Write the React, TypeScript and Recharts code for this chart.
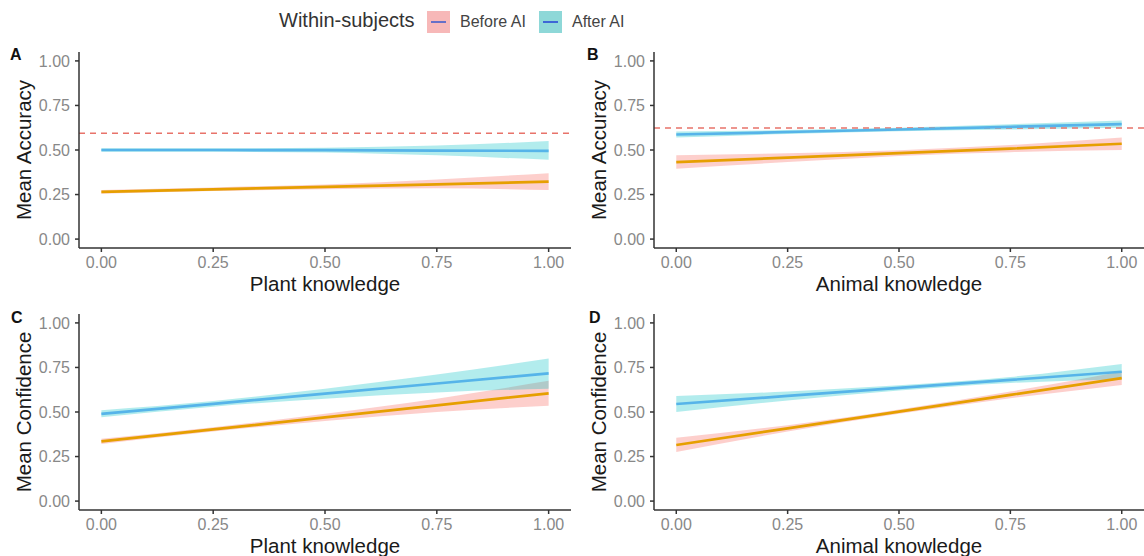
import React from "react"
import { ComposedChart, Line, Area, XAxis, YAxis, ReferenceLine } from "recharts"

const knowledge = [0, 0.25, 0.5, 0.75, 1]
const axisTicks = [0, 0.25, 0.5, 0.75, 1]

// A: accuracy vs plant knowledge
const plantAccBefore = [0.265, 0.279, 0.293, 0.307, 0.322]
const plantAccBeforeLo = [0.255, 0.27, 0.28, 0.285, 0.275]
const plantAccBeforeHi = [0.275, 0.29, 0.307, 0.335, 0.37]
const plantAccAfter = [0.5, 0.5, 0.499, 0.497, 0.495]
const plantAccAfterLo = [0.49, 0.49, 0.486, 0.47, 0.445]
const plantAccAfterHi = [0.51, 0.51, 0.513, 0.525, 0.55]
const plantAccChance = 0.594

// B: accuracy vs animal knowledge
const animalAccBefore = [0.432, 0.457, 0.483, 0.508, 0.535]
const animalAccBeforeLo = [0.395, 0.432, 0.467, 0.488, 0.5]
const animalAccBeforeHi = [0.47, 0.482, 0.499, 0.528, 0.57]
const animalAccAfter = [0.587, 0.601, 0.615, 0.63, 0.645]
const animalAccAfterLo = [0.57, 0.59, 0.605, 0.615, 0.625]
const animalAccAfterHi = [0.604, 0.612, 0.625, 0.645, 0.665]
const animalAccChance = 0.624

// C: confidence vs plant knowledge
const plantConfBefore = [0.335, 0.402, 0.47, 0.537, 0.605]
const plantConfBeforeLo = [0.32, 0.39, 0.45, 0.5, 0.535]
const plantConfBeforeHi = [0.35, 0.414, 0.49, 0.575, 0.675]
const plantConfAfter = [0.49, 0.546, 0.603, 0.66, 0.717]
const plantConfAfterLo = [0.47, 0.53, 0.575, 0.61, 0.63]
const plantConfAfterHi = [0.51, 0.562, 0.63, 0.71, 0.8]

// D: confidence vs animal knowledge
const animalConfBefore = [0.315, 0.408, 0.502, 0.596, 0.69]
const animalConfBeforeLo = [0.275, 0.39, 0.49, 0.577, 0.652]
const animalConfBeforeHi = [0.355, 0.426, 0.514, 0.615, 0.728]
const animalConfAfter = [0.545, 0.59, 0.635, 0.68, 0.726]
const animalConfAfterLo = [0.5, 0.565, 0.62, 0.663, 0.683]
const animalConfAfterHi = [0.59, 0.615, 0.65, 0.697, 0.77]

const FONT = "'Liberation Sans', Arial, sans-serif"

function rows(b: number[], bLo: number[], bHi: number[], a: number[], aLo: number[], aHi: number[]) {
  return knowledge.map((x, i) => ({
    x,
    before: b[i],
    beforeBand: [bLo[i], bHi[i]],
    after: a[i],
    afterBand: [aLo[i], aHi[i]],
  }))
}

function XTitle(props: any) {
  const { viewBox, text } = props
  return (
    <text
      x={viewBox.x + viewBox.width / 2}
      y={viewBox.y + 35}
      textAnchor="middle"
      dominantBaseline="central"
      fontSize={20.5}
      fill="#1a1a1a"
      fontFamily={FONT}
    >
      {text}
    </text>
  )
}

function YTitle(props: any) {
  const { viewBox, text } = props
  const cx = viewBox.x + 23
  const cy = viewBox.y + viewBox.height / 2
  return (
    <text
      x={cx}
      y={cy}
      transform={`rotate(-90, ${cx}, ${cy})`}
      textAnchor="middle"
      dominantBaseline="central"
      fontSize={20.5}
      fill="#1a1a1a"
      fontFamily={FONT}
    >
      {text}
    </text>
  )
}

type PanelProps = {
  left: number
  top: number
  width: number
  right: number
  data: any[]
  xTitle: string
  yTitle: string
  chance?: number
}

function Panel({ left, top, width, right, data, xTitle, yTitle, chance }: PanelProps) {
  const tickStyle = { fill: "#888", fontSize: 16, fontFamily: FONT }
  return (
    <div style={{ position: "absolute", left, top }}>
      <ComposedChart width={width} height={275} data={data} margin={{ top: 22, right, left: 0, bottom: 12 }}>
        <XAxis
          dataKey="x"
          type="number"
          domain={[-0.05, 1.05]}
          allowDataOverflow
          ticks={axisTicks}
          tickFormatter={(v: number) => v.toFixed(2)}
          tick={tickStyle}
          tickSize={4}
          tickMargin={5}
          stroke="#333"
          strokeWidth={1.5}
          height={45}
          label={<XTitle text={xTitle} />}
        />
        <YAxis
          type="number"
          domain={[-0.05, 1.05]}
          allowDataOverflow
          ticks={axisTicks}
          tickFormatter={(v: number) => v.toFixed(2)}
          tick={tickStyle}
          tickSize={4}
          tickMargin={5}
          stroke="#333"
          strokeWidth={1.5}
          width={79}
          label={<YTitle text={yTitle} />}
        />
        <Area
          dataKey="beforeBand"
          type="monotone"
          stroke="none"
          fill="#F8766D"
          fillOpacity={0.35}
          isAnimationActive={false}
        />
        <Area
          dataKey="afterBand"
          type="monotone"
          stroke="none"
          fill="#00BFC4"
          fillOpacity={0.3}
          isAnimationActive={false}
        />
        {chance !== undefined && (
          <ReferenceLine y={chance} stroke="#E8736A" strokeWidth={1.5} strokeDasharray="6 5" />
        )}
        <Line dataKey="before" type="linear" stroke="#E69F00" strokeWidth={2.7} dot={false} isAnimationActive={false} />
        <Line dataKey="after" type="linear" stroke="#56B4E9" strokeWidth={2.7} dot={false} isAnimationActive={false} />
      </ComposedChart>
    </div>
  )
}

function Tag({ x, y, children }: { x: number; y: number; children: string }) {
  return (
    <div style={{ position: "absolute", left: x, top: y, fontFamily: FONT, fontWeight: 700, fontSize: 16, color: "#111", lineHeight: "16px" }}>
      {children}
    </div>
  )
}

function LegendKey({ x, fill, line }: { x: number; fill: string; line: string }) {
  return (
    <div style={{ position: "absolute", left: x, top: 11, width: 23, height: 22, background: fill }}>
      <div style={{ position: "absolute", left: 4, top: 10, width: 15, height: 2, background: line }} />
    </div>
  )
}

export default function App() {
  const dataA = rows(plantAccBefore, plantAccBeforeLo, plantAccBeforeHi, plantAccAfter, plantAccAfterLo, plantAccAfterHi)
  const dataB = rows(animalAccBefore, animalAccBeforeLo, animalAccBeforeHi, animalAccAfter, animalAccAfterLo, animalAccAfterHi)
  const dataC = rows(plantConfBefore, plantConfBeforeLo, plantConfBeforeHi, plantConfAfter, plantConfAfterLo, plantConfAfterHi)
  const dataD = rows(animalConfBefore, animalConfBeforeLo, animalConfBeforeHi, animalConfAfter, animalConfAfterLo, animalConfAfterHi)

  return (
    <div style={{ position: "absolute", left: 0, top: 0, width: 1144, height: 556, overflow: "hidden", background: "#fff", fontFamily: FONT }}>
      {/* legend */}
      <div style={{ position: "absolute", left: 279, top: 9, fontSize: 20, color: "#333", lineHeight: "22px" }}>Within-subjects</div>
      <LegendKey x={427} fill="#F7B8B8" line="#6670C8" />
      <div style={{ position: "absolute", left: 460, top: 13, fontSize: 16, color: "#444", lineHeight: "18px" }}>Before AI</div>
      <LegendKey x={539} fill="#8ED8D8" line="#3D66D6" />
      <div style={{ position: "absolute", left: 572, top: 13, fontSize: 16, color: "#444", lineHeight: "18px" }}>After AI</div>

      <Panel left={0} top={30} width={575} right={4} data={dataA} xTitle="Plant knowledge" yTitle="Mean Accuracy" chance={plantAccChance} />
      <Panel left={575} top={30} width={569} right={0} data={dataB} xTitle="Animal knowledge" yTitle="Mean Accuracy" chance={animalAccChance} />
      <Panel left={0} top={292} width={575} right={4} data={dataC} xTitle="Plant knowledge" yTitle="Mean Confidence" />
      <Panel left={575} top={292} width={569} right={0} data={dataD} xTitle="Animal knowledge" yTitle="Mean Confidence" />

      <Tag x={10} y={47}>A</Tag>
      <Tag x={587} y={47}>B</Tag>
      <Tag x={11} y={310}>C</Tag>
      <Tag x={589} y={310}>D</Tag>
    </div>
  )
}
